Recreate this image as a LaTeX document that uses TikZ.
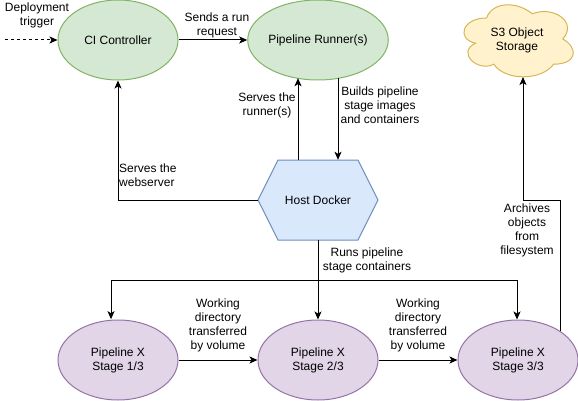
\documentclass[tikz,border=0pt]{standalone}
\usepackage{fontspec}
\setmainfont{Liberation Sans}
\usetikzlibrary{arrows.meta,calc,shapes.geometric}
\definecolor{gfill}{HTML}{D5E8D4}\definecolor{gdraw}{HTML}{82B366}
\definecolor{bfill}{HTML}{DAE8FC}\definecolor{bdraw}{HTML}{6C8EBF}
\definecolor{yfill}{HTML}{FFF2CC}\definecolor{ydraw}{HTML}{D6B656}
\definecolor{pfill}{HTML}{E1D5E7}\definecolor{pdraw}{HTML}{9673A6}
\begin{document}
\begin{tikzpicture}[x=1pt,y=-1pt,
  font=\fontsize{12}{14}\selectfont,
  every node/.style={inner sep=0pt,align=center},
  greenell/.style={ellipse,draw=gdraw,fill=gfill,minimum width=120pt,minimum height=80pt,line width=1pt},
  purpell/.style={ellipse,draw=pdraw,fill=pfill,minimum width=120pt,minimum height=80pt,line width=1pt},
  conn/.style={line width=1pt,-{Stealth[length=8pt,width=7pt,inset=2pt]}},
  lbl/.style={align=center}]
\useasboundingbox (0,0) rectangle (578,401);
% shapes
\node[greenell] (ci) at (118,40) {CI Controller};
\node[greenell] (runner) at (318,40) {Pipeline Runner(s)};
% cloud
\begin{scope}[shift={(456,-3)},x=122pt,y=-84pt]
\draw[draw=ydraw,fill=yfill,line width=1pt] (0.25,0.25) .. controls (0.05,0.25) and (0,0.5) .. (0.16,0.55)
 .. controls (0,0.66) and (0.18,0.9) .. (0.31,0.8)
 .. controls (0.4,1) and (0.7,1) .. (0.8,0.8)
 .. controls (1,0.8) and (1,0.6) .. (0.875,0.5)
 .. controls (1,0.3) and (0.8,0.1) .. (0.625,0.2)
 .. controls (0.5,0.05) and (0.3,0.05) .. (0.25,0.25) -- cycle;
\end{scope}
\node (s3) at (517,40) {S3 Object\\Storage};
% hexagon
\draw[draw=bdraw,fill=bfill,line width=1pt] (258,200) -- (278,160) -- (358,160) -- (378,200) -- (358,240) -- (278,240) -- cycle;
\node[minimum width=120pt,minimum height=80pt] (host) at (318,200) {Host Docker};
\node[purpell] (st1) at (118,360) {Pipeline X\\Stage 1/3};
\node[purpell] (st2) at (318,360) {Pipeline X\\Stage 2/3};
\node[purpell] (st3) at (518,360) {Pipeline X\\Stage 3/3};
% coordinates
\coordinate (trig) at (5,40);
\coordinate (rA) at ($(runner.south)+(-20,-2.3)$);
\coordinate (rB) at ($(runner.south)+(20,-2.3)$);
\coordinate (j) at ($(host.south)+(0,40)$);
\coordinate (s3b) at ($(s3)+(6,37)$);
% connectors
\draw[conn,dashed] (trig) -- (ci.west);
\draw[conn] (ci.east) -- (runner.west);
\draw[conn] (host.north -| rA) -- (rA);
\draw[conn] (rB) -- (rB |- host.north);
\draw[conn] (host.west) -- (host.west -| ci.south) -- (ci.south);
\draw[conn] (host.south) -- (st2.north);
\draw[conn] (j) -| ([xshift=-7pt,yshift=0.3pt]st1.north);
\draw[conn] (j) -| ([xshift=-1pt]st3.north);
\draw[conn] (st1.east) -- (st2.west);
\draw[conn] (st2.east) -- (st3.west);
\draw[conn] (st3.north east) -- (st3.north east |- host.west) -| (s3b);
% labels
\node[lbl] (l1) at (37,15) {Deployment\\trigger};
\node[lbl] (l2) at (217,25) {Sends a run\\request};
\node[lbl] (l3) at (267,105) {Serves the\\runner(s)};
\node[lbl] (l4) at (380,105) {Builds pipeline\\stage images\\and containers};
\node[align=left,anchor=west] (l5) at (119,175) {Serves the\\webserver};
\node[lbl] (l6) at (367,260) {Runs pipeline\\stage containers};
\node[lbl] (l7) at (218,325) {Working\\directory\\transferred\\by volume};
\node[lbl] (l8) at (418,325) {Working\\directory\\transferred\\by volume};
\node[lbl] (l9) at (527,230) {Archives\\objects\\from\\filesystem};
\end{tikzpicture}
\end{document}
